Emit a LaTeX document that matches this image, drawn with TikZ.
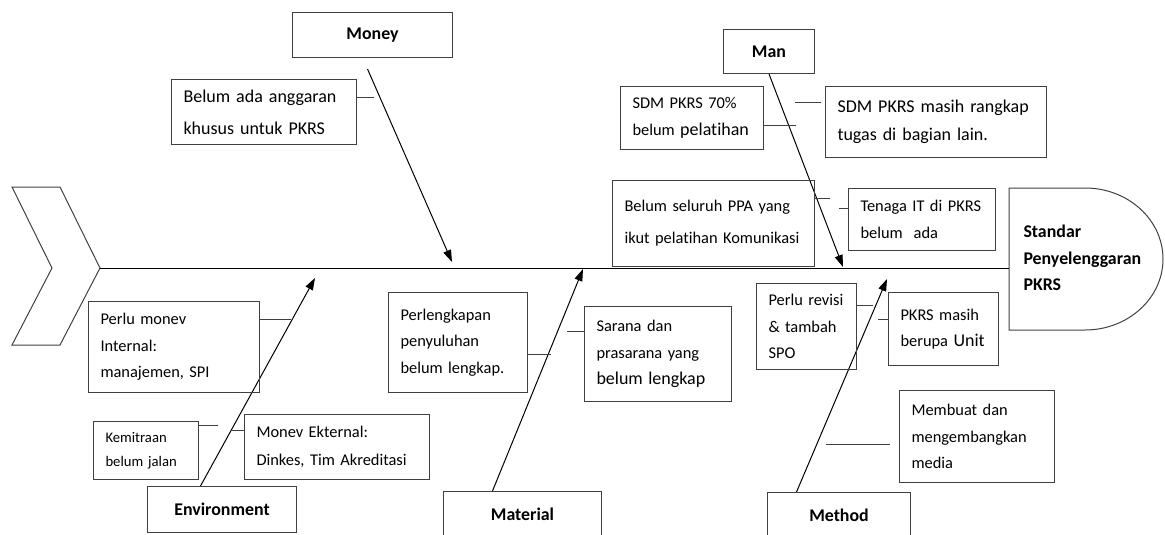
\documentclass[tikz,border=0pt]{standalone}
\usepackage{fontspec}
\setmainfont{Carlito}[Ligatures=NoCommon]
\usetikzlibrary{arrows.meta, positioning, calc}
\definecolor{inkbox}{HTML}{404040}
\newcommand{\fsz}[1]{\fontsize{#1}{20}\selectfont}

\begin{document}
\begin{tikzpicture}[x=0.75pt, y=-0.75pt, line width=0.75pt,
  cause/.style={draw=inkbox, anchor=north west, align=left, inner xsep=9pt,
    inner ysep=0pt, font=\fsz{12.3}},
  branch/.style={draw=inkbox, anchor=north west, inner sep=0pt,
    font=\bfseries\fontsize{13.4}{16}\selectfont},
  bone/.style={-{Triangle[length=9pt, width=6pt]}},
  tick/.style={draw=inkbox}]
  \useasboundingbox (0,0) rectangle (1165,535);

  % head and tail
  \node[anchor=west, align=left, inner xsep=10.5pt, text width=95pt,
    font=\bfseries\fontsize{13.4}{20}\selectfont]
    (effect) at (1009,258) {Standar\\Penyelenggaran\\PKRS};
  \draw[inkbox] (1009,188) -- (1085,188)
    arc[start angle=-90, end angle=90, x radius=78, y radius=71]
    -- (1009,330) -- cycle;
  \draw[inkbox] (12,187) -- (60,187) -- (100,268) coordinate (tail)
    -- (60,345) -- (12,345) -- (52,268) -- cycle;
  \draw (tail) -- (effect.west |- tail);

  % branches
  \node[branch, minimum width=120pt, minimum height=33.75pt] (money) at (292,12) {Money};
  \node[branch, minimum width=68.25pt, minimum height=33pt] (man) at (723,29) {Man};
  \node[branch, minimum width=111.75pt, minimum height=34.5pt] (env) at (147,486) {Environment};
  \node[branch, minimum width=118.5pt, minimum height=34.5pt] (material) at (443,491) {Material};
  \node[branch, minimum width=107.25pt, minimum height=34.5pt] (method) at (767,492) {Method};

  \coordinate (moneytip) at (452,262);
  \coordinate (mantip) at (843,267);
  \coordinate (envtip) at (315,278);
  \coordinate (materialtip) at (583,269);
  \coordinate (methodtip) at (887,279);

  \draw[bone] ($(money.south)+(-5,11)$) -- (moneytip);
  \draw[bone] (man.south) -- (mantip);
  \draw[bone] ($(env.north)+(-21.5,0)$) -- (envtip);
  \draw[bone] ($(material.north)+(-30,0)$) -- (materialtip);
  \draw[bone] ($(method.north)+(-42.5,0)$) -- (methodtip);

  % causes
  \node[cause, text width=120.75pt, minimum height=48.75pt, font=\fontsize{13.5}{24}\selectfont]
    (budget) at (171,79) {Belum ada anggaran\\khusus untuk PKRS};
  \node[cause, text width=89.25pt, minimum height=47.25pt]
    (sdm70) at (620,86) {SDM PKRS 70\%\\belum {\fsz{13.5}pelatihan}};
  \node[cause, text width=147.75pt, minimum height=53.25pt, font=\fontsize{13.5}{21}\selectfont]
    (rangkap) at (825,86) {SDM PKRS masih rangkap\\tugas di bagian lain.};
  \node[cause, text width=133.5pt, minimum height=64.5pt, font=\fontsize{12.3}{24}\selectfont]
    (ppa) at (612,180) {Belum seluruh PPA yang\\ikut pelatihan Komunikasi};
  \node[cause, text width=92.25pt, minimum height=46.5pt]
    (itstaff) at (848,188) {Tenaga IT di PKRS\\belum\ \ ada};
  \node[cause, text width=110.25pt, minimum height=68.25pt]
    (internal) at (88,301) {Perlu monev\\Internal:\\manajemen, SPI};
  \node[cause, text width=60.75pt, minimum height=43.5pt, font=\fontsize{11}{18}\selectfont]
    (mitra) at (93,421) {Kemitraan\\belum jalan};
  \node[cause, text width=120.75pt, minimum height=48.75pt, font=\fontsize{12.3}{21}\selectfont]
    (external) at (244,414) {Monev Ekternal:\\Dinkes, Tim Akreditasi};
  \node[cause, text width=86.25pt, minimum height=75pt]
    (perlengkapan) at (388,292) {Perlengkapan\\penyuluhan\\belum lengkap.};
  \node[cause, text width=92.25pt, minimum height=71.25pt]
    (sarana) at (584,306) {Sarana dan\\prasarana yang\\{\fsz{13.5}belum lengkap}};
  \node[cause, text width=57pt, minimum height=64.5pt]
    (spo) at (756,283) {Perlu revisi\\\& tambah\\SPO};
  \node[cause, text width=64.5pt, minimum height=54.75pt]
    (unit) at (888,292) {PKRS masih\\berupa {\fsz{13.5}Unit}};
  \node[cause, text width=98.25pt, minimum height=69pt]
    (media) at (899,390) {Membuat dan\\mengembangkan\\media};

  \draw[tick] (budget.east |- 0,98) -- ++(17,0);
  \draw[tick] (sdm70.east |- 0,126) -- ++(32,0);
  \draw[tick] ($(rangkap.west |- 0,103)+(-4,0)$) -- ++(-26,0);
  \draw[tick] (ppa.east |- 0,198) -- ++(15,0);
  \draw[tick] (itstaff.west |- 0,208) -- ++(-9,0);
  \draw[tick] (internal.east |- 0,319) -- ++(31,0);
  \draw[tick] (mitra.east |- 0,425) -- ++(19,0);
  \draw[tick] (external.west |- 0,430) -- ++(-12,0);
  \draw[tick] (perlengkapan.east |- 0,354) -- ++(23,0);
  \draw[tick] (sarana.west |- 0,331) -- ++(-17,0);
  \draw[tick] (spo.east |- 0,305) -- ++(16,0);
  \draw[tick] (unit.west |- 0,319) -- ++(-10,0);
  \draw[tick] ($(media.west |- 0,444)+(-9,0)$) -- ++(-64,0);
\end{tikzpicture}
\end{document}
